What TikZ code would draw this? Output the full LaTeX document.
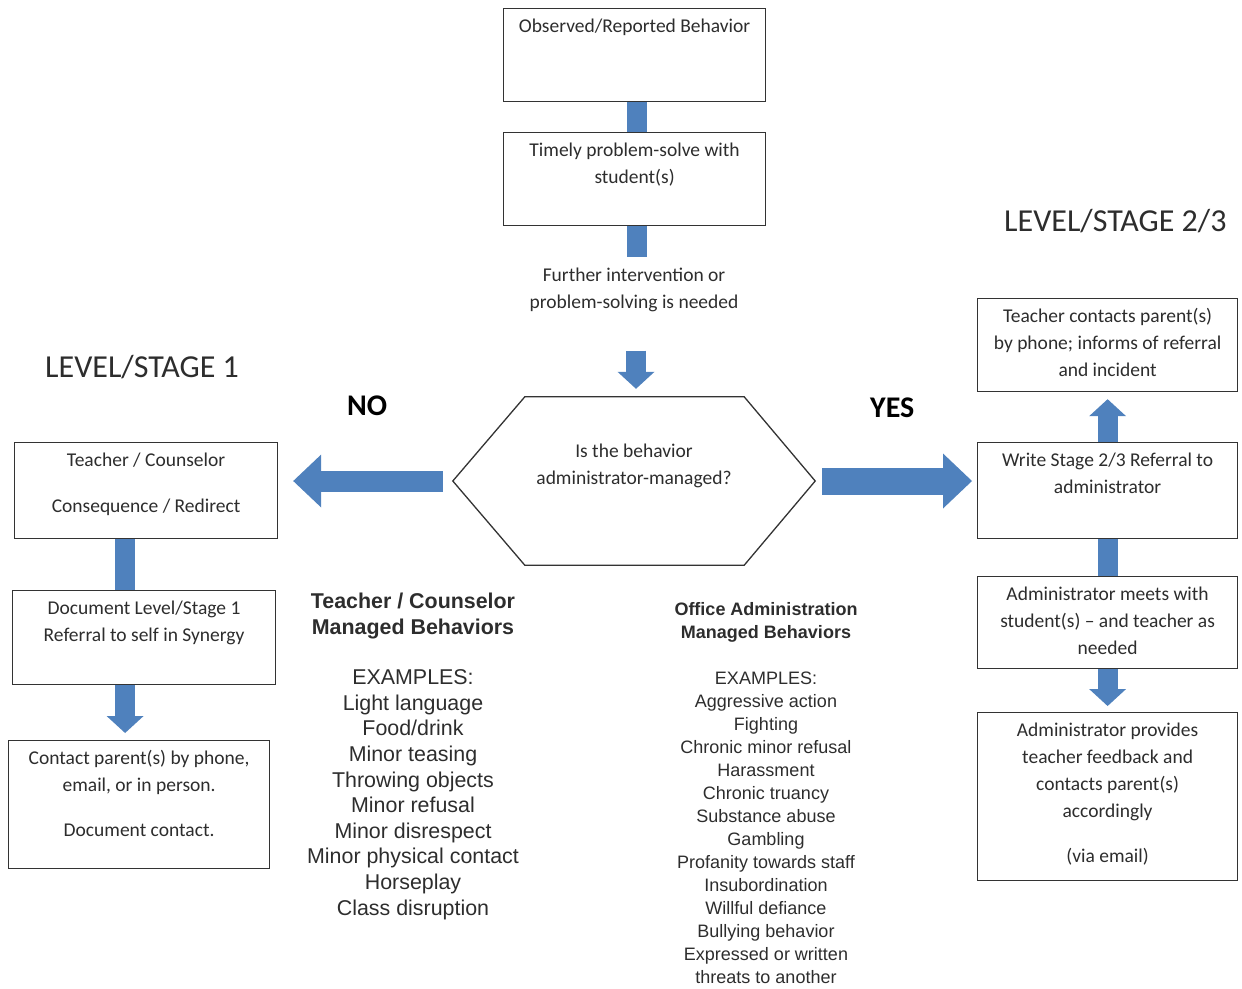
\documentclass[tikz,border=0pt]{standalone}
\usepackage{fontspec}
\setmainfont{Carlito}
\newfontfamily\listfont{Liberation Sans}
\usepackage{tikz}
\usetikzlibrary{arrows.meta,positioning,calc}

\definecolor{flowblue}{RGB}{79,129,189}
\definecolor{inkgray}{RGB}{45,45,45}

\newcommand{\boxfont}{\fontsize{19.5}{27}\selectfont}
\newcommand{\boxtext}[3]{\parbox[c][#2][t]{#1}{\centering\vspace*{5pt}\strut #3}}

\begin{document}
\begin{tikzpicture}[
        x=1pt, y=-1pt,
        box/.style={draw=black!80, line width=1.2pt, fill=white, inner sep=0pt, anchor=north west, font=\boxfont, text=inkgray},
        note/.style={font=\boxfont, align=center, inner sep=0pt, anchor=base, text=inkgray},
        heading/.style={font=\fontsize{32}{38}\selectfont, inner sep=0pt, anchor=base west, text=inkgray},
        answer/.style={font=\fontsize{30}{36}\selectfont\bfseries, inner sep=0pt, anchor=base west},
        listing/.style={font=\listfont\fontsize{21.4}{25.6}\selectfont, align=center, inner sep=0pt, anchor=base, text=inkgray},
        bar/.style={draw=flowblue, line width=20pt},
        downarrow/.style={draw=flowblue, line width=20pt, -{Triangle[width=37pt, length=17pt, line width=0pt]}},
        noarrow/.style={draw=flowblue, line width=21pt, -{Triangle[width=53pt, length=28pt, line width=0pt]}},
        yesarrow/.style={draw=flowblue, line width=27pt, -{Triangle[width=55pt, length=29pt, line width=0pt]}}
      ]
        \useasboundingbox (0,0) rectangle (1242,988);

        % Top of the flow
        \node[box] (observed) at (503,8) {\boxtext{262pt}{93pt}{Observed/Reported Behavior}};
        \node[box] (timely) at (503,132) {\boxtext{262pt}{93pt}{Timely problem-solve with\\student(s)}};
        \node[note] (further) at (634,308) {Further intervention or\\problem-solving is needed};

        % Decision
        \node[minimum width=362pt, minimum height=168pt, inner sep=0pt] (decision) at (634,481) {};
        \draw[line width=1.3pt, draw=black!80] (decision.west) -- ([xshift=72pt]decision.north west)
          -- ([xshift=-71pt]decision.north east) -- (decision.east)
          -- ([xshift=-71pt]decision.south east) -- ([xshift=72pt]decision.south west) -- cycle;
        \node[note] (question) at (634,484) {Is the behavior\\administrator-managed?};
        \node[answer] (no) at (347,415) {NO};
        \node[answer] (yes) at (870,417) {YES};

        % Level/Stage 1
        \node[heading] (stage1) at (45,377) {LEVEL/STAGE 1};
        \node[box] (teacher) at (14,442) {\boxtext{263pt}{96pt}{Teacher / Counselor\\[19pt]Consequence / Redirect}};
        \node[box] (document) at (12,590) {\boxtext{263pt}{94pt}{Document Level/Stage 1\\Referral to self in Synergy}};
        \node[box] (contact) at (8,740) {\boxtext{261pt}{128pt}{Contact parent(s) by phone,\\email, or in person.\\[18pt]Document contact.}};

        % Level/Stage 2/3
        \node[heading] (stage23) at (1004,231) {LEVEL/STAGE 2/3};
        \node[box] (informs) at (977,298) {\boxtext{260pt}{93pt}{Teacher contacts parent(s)\\by phone; informs of referral\\and incident}};
        \node[box] (referral) at (977,442) {\boxtext{260pt}{96pt}{Write Stage 2/3 Referral to\\administrator}};
        \node[box] (meets) at (977,576) {\boxtext{260pt}{92pt}{Administrator meets with\\student(s) -- and teacher as\\needed}};
        \node[box] (provides) at (977,712) {\boxtext{260pt}{168pt}{Administrator provides\\teacher feedback and\\contacts parent(s)\\accordingly\\[18pt](via email)}};

        % Example lists
        \node[listing] (teacherlist) at (413,915) {\textbf{Teacher / Counselor}\\\textbf{Managed Behaviors}\\[25pt]EXAMPLES:\\Light language\\Food/drink\\Minor teasing\\Throwing objects\\Minor refusal\\Minor disrespect\\Minor physical contact\\Horseplay\\Class disruption};
        \node[listing, font=\listfont\fontsize{18}{23}\selectfont] (officelist) at (766,983) {\textbf{Office Administration}\\\textbf{Managed Behaviors}\\[23pt]EXAMPLES:\\Aggressive action\\Fighting\\Chronic minor refusal\\Harassment\\Chronic truancy\\Substance abuse\\Gambling\\Profanity towards staff\\Insubordination\\Willful defiance\\Bullying behavior\\Expressed or written\\threats to another};

        % Connectors
        \draw[bar] ([xshift=2pt]observed.south) -- ([xshift=2pt]timely.north);
        \draw[bar, shorten >=10pt] ([xshift=2pt]timely.south) -- ([xshift=2pt]timely.south |- further.north);
        \draw[downarrow, shorten <=39pt, shorten >=8pt] ([xshift=2pt]further.south) -- ([xshift=2pt]decision.north);
        \draw[noarrow] ([xshift=-10pt]decision.west) -- ([xshift=15pt]decision.west -| teacher.east);
        \draw[yesarrow] ([xshift=7pt]decision.east) -- ([xshift=-5pt]decision.east -| referral.west);
        \draw[bar] ([xshift=-21pt]teacher.south) -- ([xshift=-21pt]teacher.south |- document.north);
        \draw[downarrow, shorten >=7pt] ([xshift=-19pt]document.south) -- ([xshift=-19pt]document.south |- contact.north);
        \draw[downarrow, shorten >=7pt] (referral.north) -- (informs.south);
        \draw[bar] (referral.south) -- (meets.north);
        \draw[downarrow, shorten >=6pt] (meets.south) -- (provides.north);
      \end{tikzpicture}
\end{document}
